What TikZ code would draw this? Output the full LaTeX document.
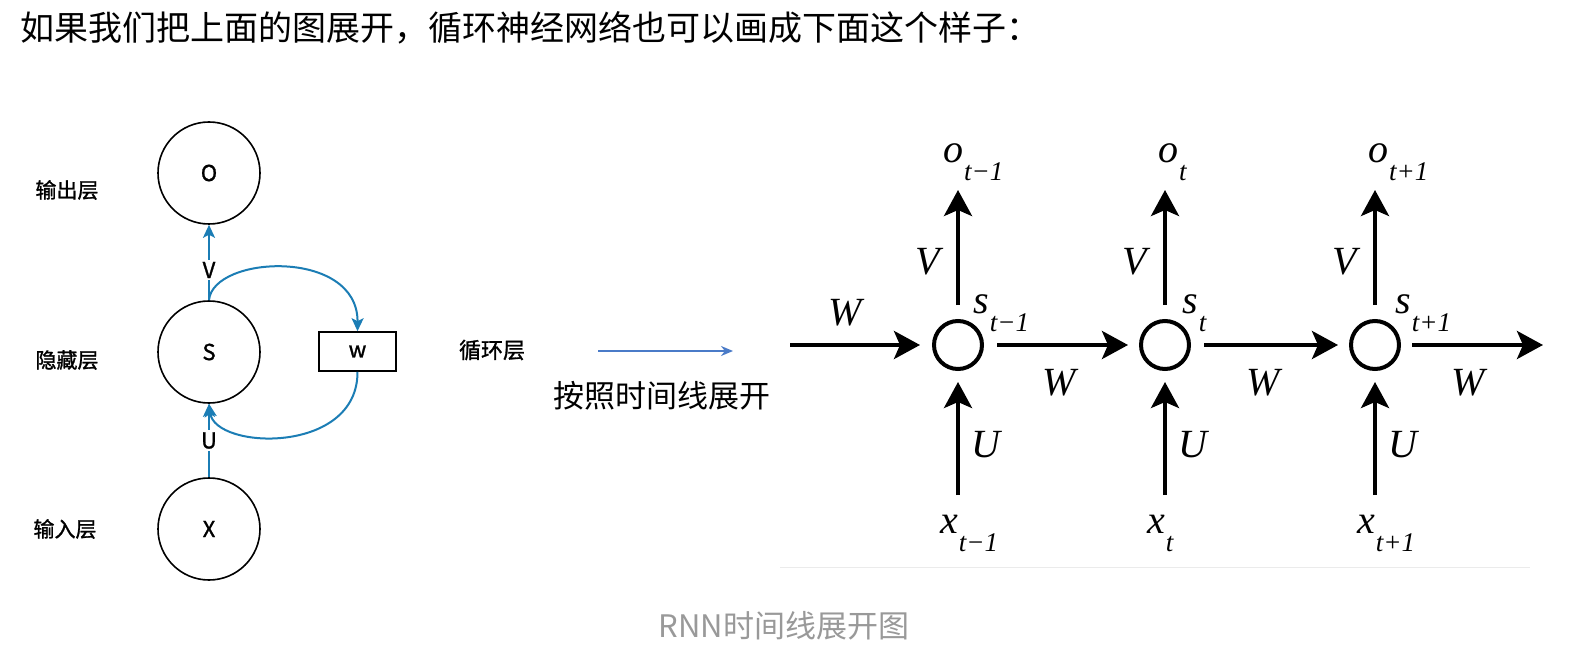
\documentclass[tikz,border=0pt]{standalone}
\usepackage{fontspec}
\setmainfont{Noto Sans CJK SC}
\newfontfamily\cjkmed[FakeBold=1.3]{Noto Sans CJK SC}
\newfontfamily\rnnserif{Liberation Serif}
\usetikzlibrary{arrows.meta}
\definecolor{loopblue}{HTML}{1B7DB5}
\definecolor{unrollblue}{HTML}{4A7BC8}
\definecolor{capgray}{HTML}{999999}
\newcommand{\fsz}[1]{\fontsize{#1}{#1}\selectfont}
\newcommand{\lbl}[2]{{\rnnserif\itshape\fsz{40}#1\kern1pt\raisebox{-18pt}{\fsz{27}#2}}}
\begin{document}
\begin{tikzpicture}[x=1pt,y=-1pt,
  layer/.style={circle, draw, line width=1.6pt, minimum size=102pt, inner sep=0pt, font=\cjkmed\fsz{22}},
  wbox/.style={draw, line width=1.6pt, minimum width=77pt, minimum height=39pt, inner sep=0pt, font=\cjkmed\fsz{22}},
  bluearr/.style={draw=loopblue, line width=2pt, -{Stealth[length=13pt,width=12pt,inset=3pt]}},
  onlbl/.style={fill=white, font=\cjkmed\fsz{22}, inner sep=2pt},
  sidelbl/.style={font=\cjkmed\fsz{21}},
  cell/.style={circle, draw, line width=4pt, minimum size=48pt, inner sep=0pt},
  bigarr/.style={line width=4pt, -{Stealth[length=26pt,width=28pt,inset=6pt]}},
  mathlbl/.style={font=\rnnserif\itshape\fsz{40}, inner sep=0pt},
  sublbl/.style={inner sep=0pt, anchor=base west}
]
\fill[white] (0,0) rectangle (1591,671);
\useasboundingbox (0,0) rectangle (1591,671);

% title
\node[anchor=west, inner sep=0pt, font=\fsz{34}] (title) at (20,28) {如果我们把上面的图展开，循环神经网络也可以画成下面这个样子：};

% left diagram
\node[layer] (O) at (209,173) {O};
\node[layer] (S) at (209,352) {S};
\node[layer] (X) at (209,529) {X};
\node[wbox] (w) at (357.5,351.5) {w};
\node[sidelbl] (lo) at (67,190) {输出层};
\node[sidelbl] (lh) at (67,360) {隐藏层};
\node[sidelbl] (li) at (65,529) {输入层};
\draw[bluearr] (S) -- node[onlbl, pos=0.4] (Vl) {V} (O);
\draw[bluearr] (X) -- node[onlbl, pos=0.5] (Ul) {U} (S);
\draw[bluearr] (S.north) .. controls (213,255) and (358,248) .. (w.north);
\draw[bluearr] (w.south) .. controls (358,455) and (215,450) .. (S.south);

% middle
\node[font=\cjkmed\fsz{22}] (loop) at (492,350) {循环层};
\coordinate (ua) at (598,351);
\coordinate (ub) at (733,351);
\draw[unrollblue, line width=1.5pt, -{Stealth[length=12pt,width=10pt]}] (ua) -- (ub);
\node[font=\fsz{31}] (unroll) at (662,396) {按照时间线展开};

% right diagram
\node[cell] (s1) at (958,345) {};
\node[cell] (s2) at (1165,345) {};
\node[cell] (s3) at (1375,345) {};
\coordinate (win) at (790,345);
\coordinate (wout) at (1543,345);
\foreach \c/\n in {958/1,1165/2,1375/3}{
  \coordinate (top\n) at (\c,190);
  \coordinate (bot\n) at (\c,495);
  \draw[bigarr, shorten <=14pt] (s\n) -- (top\n);
  \draw[bigarr, shorten >=11pt] (bot\n) -- (s\n);
  \node[mathlbl] (V\n) at (\c-30,262) {V};
  \node[mathlbl] (U\n) at (\c+28,445) {U};
}
\draw[bigarr, shorten >=12pt] (win) -- (s1);
\draw[bigarr, shorten <=13pt, shorten >=11pt] (s1) -- (s2);
\draw[bigarr, shorten <=13pt, shorten >=11pt] (s2) -- (s3);
\draw[bigarr, shorten <=11pt] (s3) -- (wout);
\node[mathlbl] (W0) at (845,313) {W};
\node[mathlbl] (W1) at (1059,383) {W};
\node[mathlbl] (W2) at (1263,383) {W};
\node[mathlbl] (W3) at (1468,383) {W};

\node[sublbl] (o1) at (943,163) {\lbl{o}{t−1}};
\node[sublbl] (o2) at (1158,163) {\lbl{o}{t}};
\node[sublbl] (o3) at (1368,163) {\lbl{o}{t+1}};
\node[sublbl] (sl1) at (973,313) {\lbl{s}{t−1}};
\node[sublbl] (sl2) at (1182,313) {\lbl{s}{t}};
\node[sublbl] (sl3) at (1395,313) {\lbl{s}{t+1}};
\node[sublbl] (x1) at (940,533) {\lbl{x}{t−1}};
\node[sublbl] (x2) at (1147,533) {\lbl{x}{t}};
\node[sublbl] (x3) at (1357,533) {\lbl{x}{t+1}};

\draw[black!8, line width=1pt] (780,567) -- (1530,567);

% caption
\node[text=capgray, font=\fsz{31}] (cap) at (784,626) {RNN时间线展开图};
\end{tikzpicture}
\end{document}
